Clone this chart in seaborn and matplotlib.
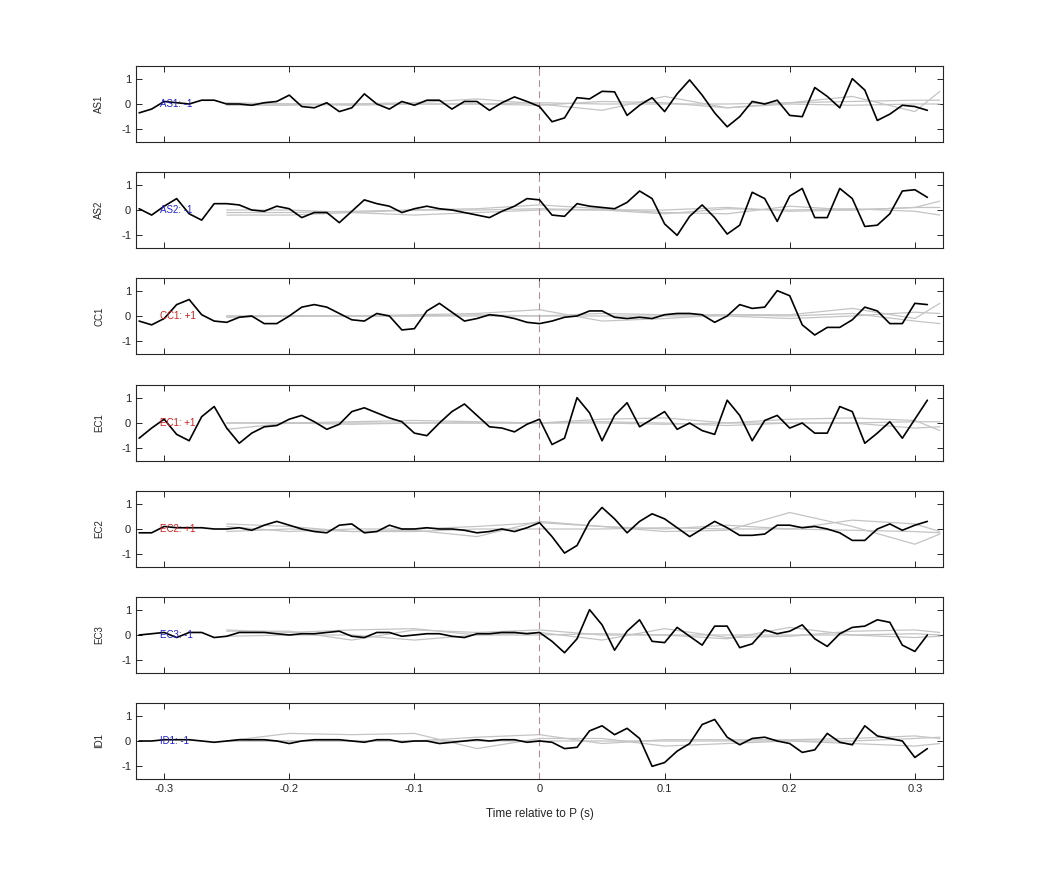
import numpy as np
import pandas as pd
import matplotlib
matplotlib.use("Agg")
import matplotlib.pyplot as plt
import seaborn as sns

sns.set_style("ticks")
plt.rcParams['font.family'] = ['Liberation Sans', 'DejaVu Sans']
plt.rcParams['axes.unicode_minus'] = False

t = np.round(np.arange(-0.32, 0.315, 0.01), 2)
channels = ["AS1", "AS2", "CC1", "EC1", "EC2", "EC3", "ID1"]
polarity = ["AS1: -1", "AS2: -1", "CC1: +1", "EC1: +1", "EC2: +1", "EC3: -1", "ID1: -1"]
label_colors = ["#2020d0", "#2020d0", "#d02020", "#d02020", "#d02020", "#2020d0", "#2020d0"]

AS1 = [-0.35,-0.2,0.1,0.05,0.0,0.15,0.15,0.0,0.0,-0.05,0.05,0.1,0.35,-0.1,-0.15,0.05,-0.3,-0.15,0.4,0.0,-0.2,0.1,-0.05,0.15,0.15,-0.2,0.1,0.1,-0.25,0.05,0.28,0.1,-0.1,
       -0.7,-0.55,0.25,0.2,0.5,0.48,-0.45,-0.05,0.25,-0.3,0.4,0.95,0.35,-0.35,-0.9,-0.5,0.1,0.0,0.15,-0.45,-0.5,0.65,0.3,-0.15,1.0,0.55,-0.65,-0.4,-0.05,-0.1,-0.25]
AS2 = [0.05,-0.2,0.15,0.45,-0.15,-0.4,0.25,0.25,0.2,0.0,-0.05,0.15,0.05,-0.3,-0.1,-0.1,-0.5,-0.05,0.4,0.25,0.15,-0.1,0.05,0.15,0.05,0.0,-0.1,-0.2,-0.3,-0.05,0.15,0.45,0.4,
       -0.2,-0.25,0.25,0.15,0.1,0.05,0.3,0.75,0.45,-0.55,-1.0,-0.25,0.2,-0.3,-0.95,-0.6,0.7,0.45,-0.45,0.55,0.85,-0.3,-0.3,0.85,0.45,-0.65,-0.6,-0.15,0.75,0.8,0.5]
CC1 = [-0.2,-0.35,-0.1,0.45,0.65,0.05,-0.2,-0.25,-0.05,0.0,-0.3,-0.3,0.0,0.35,0.45,0.35,0.1,-0.15,-0.2,0.1,0.0,-0.55,-0.5,0.2,0.5,0.15,-0.2,-0.1,0.05,0.0,-0.1,-0.25,-0.3,
       -0.2,-0.05,0.0,0.2,0.2,-0.05,-0.1,-0.05,-0.1,0.05,0.1,0.1,0.05,-0.25,0.0,0.45,0.3,0.35,1.0,0.8,-0.35,-0.75,-0.45,-0.45,-0.15,0.35,0.2,-0.3,-0.3,0.5,0.45]
EC1 = [-0.6,-0.2,0.15,-0.45,-0.7,0.25,0.65,-0.2,-0.8,-0.4,-0.15,-0.1,0.15,0.3,0.05,-0.25,-0.05,0.45,0.6,0.4,0.2,0.05,-0.4,-0.5,0.0,0.45,0.75,0.3,-0.15,-0.2,-0.35,-0.05,0.15,
       -0.85,-0.6,1.0,0.4,-0.7,0.3,0.8,-0.15,0.15,0.45,-0.25,0.0,-0.3,-0.45,0.9,0.3,-0.7,0.1,0.3,-0.2,0.0,-0.4,-0.4,0.65,0.45,-0.8,-0.4,0.05,-0.6,0.15,0.9]
EC2 = [-0.15,-0.15,0.1,0.05,0.05,0.05,0.0,0.0,0.05,-0.05,0.15,0.3,0.15,0.0,-0.1,-0.15,0.15,0.2,-0.15,-0.1,0.15,0.0,0.0,0.05,0.0,0.0,-0.05,-0.15,-0.1,0.0,-0.1,0.05,0.25,
       -0.3,-0.95,-0.65,0.3,0.85,0.4,-0.15,0.3,0.6,0.4,0.05,-0.3,0.0,0.3,0.05,-0.25,-0.25,-0.2,0.15,0.15,0.05,0.1,0.0,-0.15,-0.45,-0.45,0.0,0.2,-0.05,0.15,0.3]
EC3 = [0.0,0.05,0.1,-0.1,0.1,0.1,-0.1,-0.05,0.1,0.1,0.1,0.05,0.0,0.05,0.05,0.1,0.15,-0.05,-0.1,0.1,0.1,-0.05,0.0,0.05,0.05,-0.05,-0.1,0.05,0.05,0.1,0.1,0.05,0.1,
       -0.25,-0.7,-0.15,1.0,0.4,-0.6,0.15,0.6,-0.25,-0.3,0.3,-0.05,-0.4,0.35,0.35,-0.5,-0.35,0.2,0.05,0.15,0.4,-0.15,-0.45,0.05,0.3,0.35,0.6,0.5,-0.4,-0.65,0.0]
ID1 = [0.0,0.0,0.05,0.05,0.05,0.0,-0.05,0.0,0.05,0.05,0.05,0.0,-0.1,0.0,0.05,0.05,0.05,0.0,-0.05,0.05,0.05,-0.05,0.0,0.0,-0.1,-0.05,0.0,0.05,0.0,0.05,0.05,-0.05,0.0,
       -0.05,-0.3,-0.25,0.4,0.6,0.25,0.5,0.1,-1.0,-0.85,-0.4,-0.1,0.65,0.85,0.15,-0.15,0.1,0.15,0.0,-0.1,-0.45,-0.35,0.3,-0.05,-0.15,0.6,0.2,0.1,0.0,-0.65,-0.3]
black_series = [AS1, AS2, CC1, EC1, EC2, EC3, ID1]

tg = [-0.25,-0.20,-0.15,-0.10,-0.05,0.00,0.05,0.10,0.15,0.20,0.25,0.30,0.32]
gray_series = [
    [[0,0,0,0.05,0.2,0.0,-0.25,0.3,-0.15,0.05,0.3,-0.3,0.5],[-0.05,-0.05,0,0,0,0.05,0,0,0,0.05,0.1,0.15,0.15],[0.05,0,-0.05,0,0,-0.05,0.1,0.05,-0.15,0,-0.05,0,0]],
    [[-0.1,-0.1,-0.05,0,0.05,0.2,0.05,-0.1,-0.15,0.15,0,0.1,0.35],[0,0,-0.1,-0.2,-0.1,0,0,-0.15,0.05,0,0.05,-0.05,-0.2],[-0.2,-0.2,-0.1,0,0,0.05,0,0,0.1,-0.05,0,0.1,0.1]],
    [[0,0,0,0.05,0.1,0.25,-0.2,-0.1,0.05,0.05,0.3,-0.1,0.5],[0,0,0,0,0,0,0.1,0.05,0.05,0,0.1,-0.2,-0.3],[-0.05,0,0,0,0.05,0,0,0,0,-0.1,0,0.15,0.1]],
    [[-0.25,0,0.05,0.1,0.05,0,0.15,0.2,0,0.15,0.2,0.1,-0.3],[0,0,-0.05,0,0,0,0.05,0,-0.1,0,0,-0.2,-0.15],[0,0,0,0,0,0,0,-0.05,0,0,0,0.05,0.05]],
    [[0.2,0.1,-0.1,-0.05,-0.3,0.3,0.1,-0.1,-0.05,0.65,0.1,-0.6,-0.2],[0.1,-0.1,0,0,0.1,0.25,0.1,0,0.15,0,0.35,0.2,-0.1],[-0.1,0,-0.1,-0.1,0,0,0,0.05,0,0,-0.05,-0.1,-0.15]],
    [[0.2,0.1,0.2,0.25,0,0.1,-0.2,0.25,-0.1,-0.05,0.15,0.2,0.1],[0.15,0.15,-0.2,0.2,0.1,0.2,0,0,-0.15,0.3,0,-0.1,-0.05],[-0.05,0,0,-0.2,0,0,0.05,0,0,0,0,0.05,0]],
    [[0,0.3,0.25,0.3,-0.3,0.1,0.1,-0.2,-0.1,0,-0.1,-0.2,-0.1],[0,0,0,0,0.15,0.25,-0.1,0.05,0.05,0.05,0.1,0.2,0.1],[0,0,0,0,0,0,0,0,0,0,0,0.1,0.15]],
]

W, H = 1042, 875
fig = plt.figure(figsize=(W/100, H/100), dpi=100)
tops = [66, 172, 278, 385, 491, 597, 703]
ph = 76
for i, ch in enumerate(channels):
    ax = fig.add_axes([136/W, 1-(tops[i]+ph)/H, 807/W, ph/H])
    for g in gray_series[i]:
        sns.lineplot(x=tg, y=g, ax=ax, color="#c4c4c4", linewidth=0.9)
    ax.axvline(0, color="#b09090", linestyle=(0, (6, 4)), linewidth=0.8)
    sns.lineplot(x=t, y=black_series[i], ax=ax, color="black", linewidth=1.2)
    ax.text(-0.303, 0, polarity[i], color=label_colors[i], fontsize=7, va="center", ha="left")
    ax.set_xlim(-0.3225, 0.3225)
    ax.set_ylim(-1.5, 1.5)
    ax.set_yticks([-1, 0, 1])
    ax.set_xticks([-0.3, -0.2, -0.1, 0, 0.1, 0.2, 0.3])
    ax.tick_params(direction="in", top=True, right=True, labelsize=8, length=4, width=0.7)
    ax.set_ylabel(ch, fontsize=7, labelpad=12)
    for s in ax.spines.values():
        s.set_linewidth(0.8)
    if i < len(channels) - 1:
        ax.set_xticklabels([])
    else:
        ax.set_xticklabels(["-0.3", "-0.2", "-0.1", "0", "0.1", "0.2", "0.3"])
        ax.set_xlabel("Time relative to P (s)", fontsize=8.5, labelpad=10)

fig.savefig("out.png", dpi=100)
